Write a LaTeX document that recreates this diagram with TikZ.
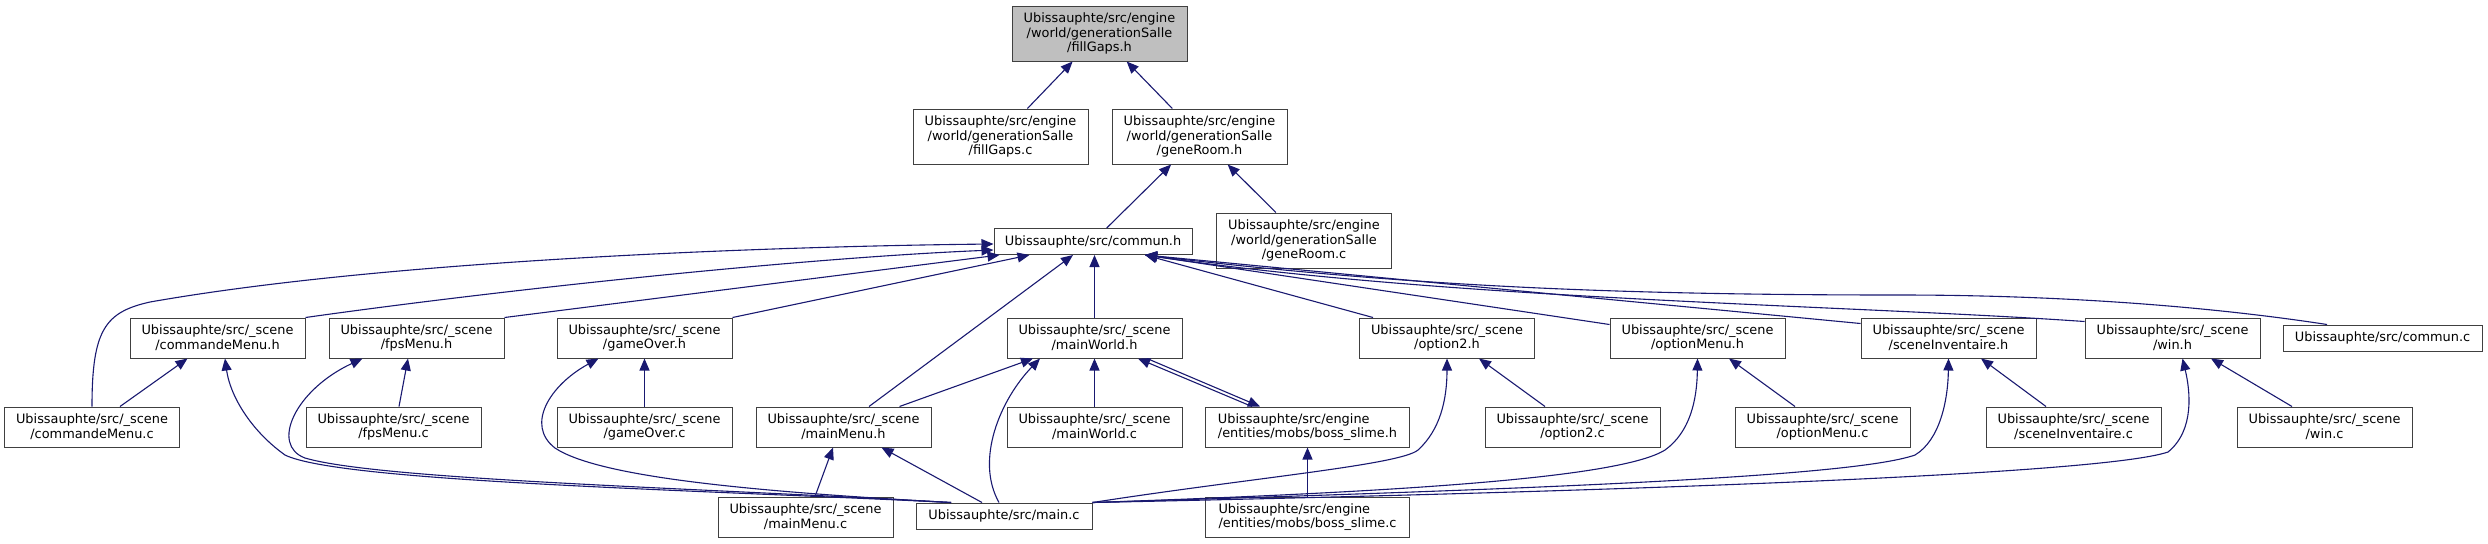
\documentclass[tikz,border=0pt]{standalone}
\usepackage{fontspec}
\setmainfont{DejaVu Sans}
\usetikzlibrary{arrows.meta, positioning}
\definecolor{edgeblue}{HTML}{191970}

\begin{document}
\begin{tikzpicture}[
    x=0.5pt, y=-0.5pt,
    every node/.style={align=center},
    file/.style={draw=black!75, fill=white, line width=0.5pt, inner sep=0pt,
        minimum width=87.5pt, minimum height=20pt,
        font=\fontsize{6.45}{7.35}\selectfont},
    tall/.style={file, minimum height=27.5pt},
    flat/.style={file, minimum height=13pt},
    incl/.style={-{Triangle[length=6pt, width=5pt]}, edgeblue, line width=0.55pt}
]
    \useasboundingbox (0,0) rectangle (2488,543);

    % Nodes
    \node[tall, fill=black!25] (fillgapsh) at (1099.5,33.5) {Ubissauphte/src/engine\\/world/generationSalle\\/fillGaps.h};
    \node[tall] (fillgapsc) at (1000.5,136.5) {Ubissauphte/src/engine\\/world/generationSalle\\/fillGaps.c};
    \node[tall] (generoomh) at (1199.5,136.5) {Ubissauphte/src/engine\\/world/generationSalle\\/geneRoom.h};
    \node[tall] (generoomc) at (1304,240.5) {Ubissauphte/src/engine\\/world/generationSalle\\/geneRoom.c};
    \node[flat, minimum width=99pt] (communh) at (1093,241.5) {Ubissauphte/src/commun.h};

    \node[file] (cmdmenuh) at (217.5,338) {Ubissauphte/src/\_scene\\/commandeMenu.h};
    \node[file] (fpsmenuh) at (416.5,338) {Ubissauphte/src/\_scene\\/fpsMenu.h};
    \node[file] (gameoverh) at (644.5,338) {Ubissauphte/src/\_scene\\/gameOver.h};
    \node[file] (mainworldh) at (1094.5,338) {Ubissauphte/src/\_scene\\/mainWorld.h};
    \node[file] (option2h) at (1447,338) {Ubissauphte/src/\_scene\\/option2.h};
    \node[file] (optmenuh) at (1697.5,338) {Ubissauphte/src/\_scene\\/optionMenu.h};
    \node[file] (sceneinvh) at (1948.5,338) {Ubissauphte/src/\_scene\\/sceneInventaire.h};
    \node[file] (winh) at (2172.5,338) {Ubissauphte/src/\_scene\\/win.h};
    \node[flat, minimum width=99.5pt] (communc) at (2382.5,338) {Ubissauphte/src/commun.c};

    \node[file] (cmdmenuc) at (92,427) {Ubissauphte/src/\_scene\\/commandeMenu.c};
    \node[file] (fpsmenuc) at (393.5,427) {Ubissauphte/src/\_scene\\/fpsMenu.c};
    \node[file] (gameoverc) at (644.5,427) {Ubissauphte/src/\_scene\\/gameOver.c};
    \node[file] (mainmenuh) at (843.5,427) {Ubissauphte/src/\_scene\\/mainMenu.h};
    \node[file] (mainworldc) at (1094.5,427) {Ubissauphte/src/\_scene\\/mainWorld.c};
    \node[file, minimum width=102pt, align=left] (bossh) at (1307.5,427) {Ubissauphte/src/engine\\/entities/mobs/boss\_slime.h};
    \node[file] (option2c) at (1572.5,427) {Ubissauphte/src/\_scene\\/option2.c};
    \node[file] (optmenuc) at (1822.5,427) {Ubissauphte/src/\_scene\\/optionMenu.c};
    \node[file] (sceneinvc) at (2073.5,427) {Ubissauphte/src/\_scene\\/sceneInventaire.c};
    \node[file] (winc) at (2324.5,427) {Ubissauphte/src/\_scene\\/win.c};

    \node[file] (mainmenuc) at (805.5,517) {Ubissauphte/src/\_scene\\/mainMenu.c};
    \node[flat, minimum width=88pt] (mainc) at (1004,516) {Ubissauphte/src/main.c};
    \node[file, minimum width=102pt, align=left] (bossc) at (1307.5,517) {Ubissauphte/src/engine\\/entities/mobs/boss\_slime.c};

    % Arrows
    \draw[incl] (fillgapsc) -- (fillgapsh);
    \draw[incl] (generoomh) -- (fillgapsh);
    \draw[incl] (communh) -- (generoomh);
    \draw[incl] (generoomc) -- (generoomh);

    % includes of commun.h
    \draw[incl] (cmdmenuc.north) .. controls (92,330) and (105,312) .. (150,302) .. controls (400,258) and (800,246) .. ([yshift=-1.25pt]communh.west);
    \draw[incl] (cmdmenuh.north east) .. controls (500,290) and (800,258) .. ([yshift=-4.25pt]communh.west);
    \draw[incl] (fpsmenuh.north east) -- ([xshift=3pt]communh.south west);
    \draw[incl] (gameoverh.north east) -- ([xshift=18pt]communh.south west);
    \draw[incl] ([xshift=12.75pt]mainmenuh.north) -- ([xshift=-10pt]communh.south);
    \draw[incl] (mainworldh.north) -- ([xshift=0.75pt]communh.south);
    \draw[incl] ([xshift=7pt]option2h.north west) -- ([xshift=26pt]communh.south);
    \draw[incl] ([yshift=-3.5pt]optmenuh.north west) -- ([xshift=26pt]communh.south);
    \draw[incl] ([yshift=-3pt]sceneinvh.north west) -- ([xshift=26pt]communh.south);
    \draw[incl] ([yshift=-2pt]winh.north west) .. controls (1850,305) and (1450,300) .. ([xshift=26pt]communh.south);
    \draw[incl] ([xshift=-27.75pt]communc.north) .. controls (2200,305) and (2050,295) .. (1900,295) .. controls (1600,295) and (1400,285) .. ([xshift=26pt]communh.south);

    % mainWorld.h and boss_slime.h
    \draw[incl] ([xshift=-27.75pt]bossh.north) -- ([xshift=21.75pt]mainworldh.south);
    \draw[incl] ([xshift=26.25pt]mainworldh.south) -- ([xshift=-23.75pt]bossh.north);
    \draw[incl] ([xshift=28pt]mainmenuh.north) -- ([xshift=-30.75pt]mainworldh.south);

    % main.c
    \draw[incl] ([xshift=-26.5pt]mainc.north) .. controls (700,490) and (340,482) .. (285,455) .. controls (250,430) and (230,395) .. ([xshift=3.75pt]cmdmenuh.south);
    \draw[incl] ([xshift=-26.5pt]mainc.north) .. controls (700,488) and (380,480) .. (305,458) .. controls (270,445) and (295,390) .. ([xshift=-27pt]fpsmenuh.south);
    \draw[incl] ([xshift=-26.5pt]mainc.north) .. controls (760,492) and (600,478) .. (555,448) .. controls (525,425) and (550,385) .. ([xshift=-23pt]gameoverh.south);
    \draw[incl] ([xshift=-11pt]mainc.north) -- ([xshift=19pt]mainmenuh.south);
    \draw[incl] ([xshift=-2.5pt]mainc.north) .. controls (975,460) and (1000,400) .. ([xshift=-27.25pt]mainworldh.south);
    \draw[incl] (mainc.north east) .. controls (1250,478) and (1400,465) .. (1418,450) .. controls (1440,430) and (1447,400) .. (option2h.south);
    \draw[incl] (mainc.north east) .. controls (1400,492) and (1620,478) .. (1665,450) .. controls (1690,432) and (1697,400) .. (optmenuh.south);
    \draw[incl] (mainc.north east) .. controls (1500,490) and (1850,478) .. (1915,455) .. controls (1940,440) and (1948,400) .. (sceneinvh.south);
    \draw[incl] (mainc.north east) .. controls (1600,492) and (2100,475) .. (2168,452) .. controls (2195,430) and (2190,390) .. ([xshift=5pt]winh.south);

    % sources of the scene headers
    \draw[incl] ([xshift=14pt]cmdmenuc.north) -- ([xshift=-15pt]cmdmenuh.south);
    \draw[incl] ([xshift=2.75pt]fpsmenuc.north) -- ([xshift=-4.25pt]fpsmenuh.south);
    \draw[incl] (gameoverc) -- (gameoverh);
    \draw[incl] ([xshift=4.75pt]mainmenuc.north) -- ([xshift=-5.25pt]mainmenuh.south);
    \draw[incl] (mainworldc) -- (mainworldh);
    \draw[incl] (bossc) -- (bossh);
    \draw[incl] ([xshift=-13.75pt]option2c.north) -- ([xshift=16pt]option2h.south);
    \draw[incl] ([xshift=-13.75pt]optmenuc.north) -- ([xshift=15.75pt]optmenuh.south);
    \draw[incl] ([xshift=-13.75pt]sceneinvc.north) -- ([xshift=16.25pt]sceneinvh.south);
    \draw[incl] ([xshift=-16.25pt]winc.north) -- ([xshift=19.25pt]winh.south);

\end{tikzpicture}
\end{document}
